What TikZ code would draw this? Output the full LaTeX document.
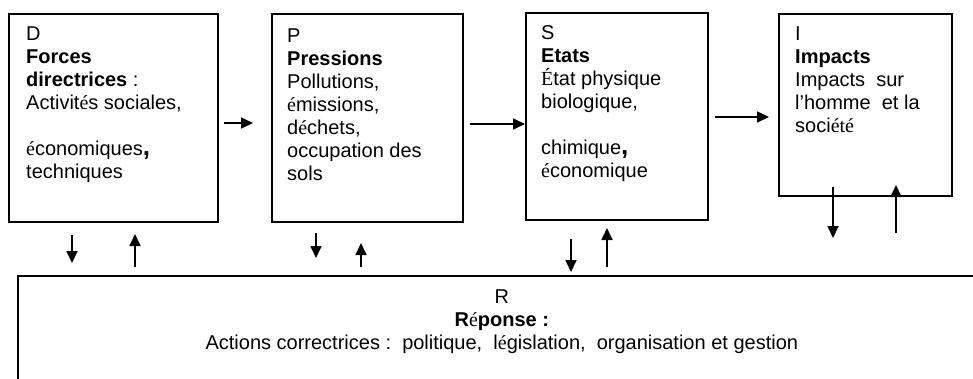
\documentclass[tikz,border=0pt]{standalone}
\usepackage{fontspec}
\setmainfont{Liberation Sans}
\newfontfamily\timesfont{Liberation Serif}
\usetikzlibrary{positioning, arrows.meta}
\newcommand{\tms}[1]{{\timesfont\mdseries #1}}
\newcommand{\bigcomma}{{\fontsize{26}{23}\selectfont\bfseries,}}

\begin{document}
\begin{tikzpicture}[
    x=1pt, y=-1pt,
    box/.style={draw, line width=1.6pt, inner sep=0pt, anchor=north west},
    txt/.style={align=left, inner sep=0pt, font=\fontsize{20}{23}\selectfont},
    arr/.style={-{Triangle[length=12pt, width=11pt]}, line width=1.7pt}
]
    \useasboundingbox (0,0) rectangle (973,378);
    \clip (0,0) rectangle (973,378);

    % Boxes
    \node[box, minimum width=209pt, minimum height=208pt] (d) at (8,13) {};
    \node[box, minimum width=191pt, minimum height=208pt] (p) at (271,13) {};
    \node[box, minimum width=182pt, minimum height=207pt] (s) at (525,12) {};
    \node[box, minimum width=173pt, minimum height=182pt] (i) at (778,13) {};
    \node[box, minimum width=968pt, minimum height=160pt] (r) at (17,275) {};

    % Texts
    \node[txt, below right=12pt and 18pt of d.north west] (dtext)
        {\rule{0pt}{15pt}D\\ \textbf{Forces}\\ \textbf{directrices} :\\
         Activit\tms{é}s sociales,\\[23pt] \tms{é}conomiques\bigcomma\\ techniques};
    \node[txt, below right=14pt and 16pt of p.north west] (ptext)
        {\rule{0pt}{15pt}P\\ \textbf{Pressions}\\ Pollutions,\\ \tms{é}missions,\\
         d\tms{é}chets,\\ occupation des\\ sols};
    \node[txt, below right=12pt and 16pt of s.north west] (stext)
        {\rule{0pt}{15pt}S\\ \textbf{Etats}\\ \tms{É}tat physique\\ biologique,\\[23pt]
         chimique\bigcomma\\ \tms{é}conomique};
    \node[txt, below right=12pt and 17pt of i.north west] (itext)
        {\rule{0pt}{15pt}I\\ \textbf{Impacts}\\ Impacts\ \ sur\\ l’homme\ \ et la\\ soci\tms{été}};
    \node[txt, align=center, below=13pt of r.north] (rtext)
        {\rule{0pt}{15pt}R\\ \textbf{R\tms{é}ponse :}\\
         Actions correctrices :\ \ politique,\ \ l\tms{é}gislation,\ \ organisation et gestion};

    % Arrow ends
    \coordinate (dp1) at (224,123); \coordinate (dp2) at (253,123);
    \coordinate (ps1) at (470,124);
    \coordinate (si1) at (715,117); \coordinate (si2) at (769,117);
    \coordinate (dr1) at (72,235);  \coordinate (dr2) at (72,263);
    \coordinate (rd1) at (135,267); \coordinate (rd2) at (135,234);
    \coordinate (pr1) at (316,233); \coordinate (pr2) at (316,258);
    \coordinate (rp1) at (361,267); \coordinate (rp2) at (361,243);
    \coordinate (sr1) at (571,239); \coordinate (sr2) at (571,272);
    \coordinate (rs1) at (607,267); \coordinate (rs2) at (607,228);
    \coordinate (ir1) at (833,187); \coordinate (ir2) at (833,238);
    \coordinate (ri1) at (896,233); \coordinate (ri2) at (896,185);

    % Arrows
    \path[arr]
        (dp1) edge (dp2)
        (ps1) edge (ps1 -| s.west)
        (si1) edge (si2)
        (dr1) edge (dr2)
        (rd1) edge (rd2)
        (pr1) edge (pr2)
        (rp1) edge (rp2)
        (sr1) edge (sr2)
        (rs1) edge (rs2)
        (ir1) edge (ir2)
        (ri1) edge (ri2);
\end{tikzpicture}
\end{document}
